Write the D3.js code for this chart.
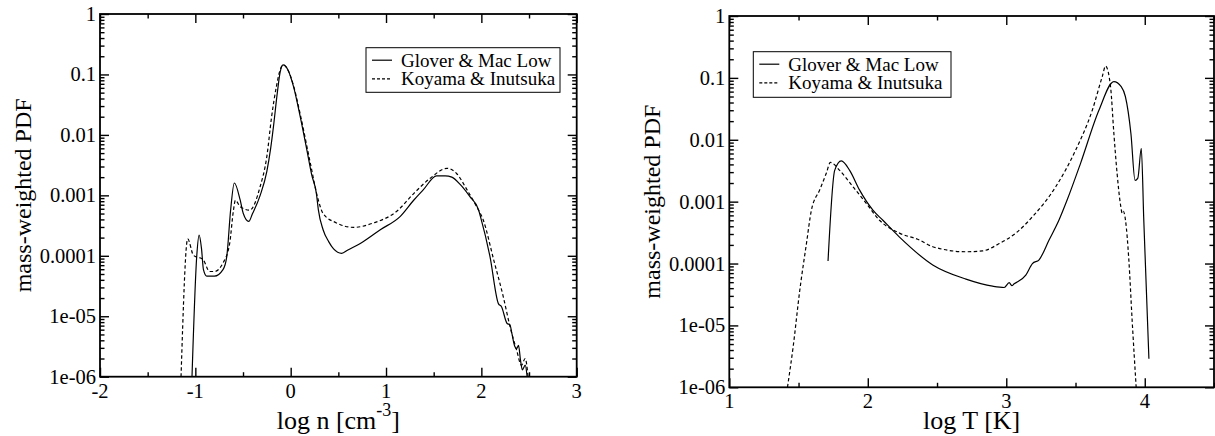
<!DOCTYPE html>
<html>
<head>
<meta charset="utf-8">
<script src="https://cdn.jsdelivr.net/npm/d3@7"></script>
<style>
  html, body { margin: 0; padding: 0; background: #fff; }
  svg { display: block; }
  text { font-family: "Liberation Serif", "Times New Roman", "DejaVu Serif", serif; fill: #000; }
</style>
</head>
<body>
<svg id="chart" width="1215" height="436"></svg>
<script>
// ---------------- DATA ----------------
const seriesNames = ["Glover & Mac Low", "Koyama & Inutsuka"];

// Left panel: log n [cm^-3] vs mass-weighted PDF
const densGM_x = [-1.035, -0.985, -0.96, -0.935, -0.915, -0.88, -0.80, -0.71, -0.67, -0.63, -0.591, -0.53, -0.497, -0.44, -0.40, -0.32, -0.25, -0.21, -0.18, -0.14, -0.11, -0.08, -0.03, 0.03, 0.10, 0.17, 0.22, 0.27, 0.29, 0.34, 0.40, 0.45, 0.535, 0.60, 0.73, 0.94, 1.15, 1.29, 1.39, 1.53, 1.62, 1.69, 1.78, 1.88, 1.97, 1.99, 2.09, 2.18, 2.21, 2.27, 2.30, 2.32, 2.35, 2.37, 2.39, 2.41, 2.43, 2.46, 2.48];
const densGM_y = [1e-6, 1e-4, 2.2e-4, 1.3e-4, 5.9e-5, 4.6e-5, 4.6e-5, 5.9e-5, 9.8e-5, 5.7e-4, 1.6e-3, 8.4e-4, 5.0e-4, 3.7e-4, 5.0e-4, 1.0e-3, 2.5e-3, 6e-3, 1.4e-2, 5e-2, 0.11, 0.144, 0.12, 0.063, 0.02, 5.6e-3, 2.2e-3, 1.07e-3, 5.8e-4, 2.7e-4, 1.7e-4, 1.3e-4, 1.1e-4, 1.25e-4, 1.6e-4, 2.7e-4, 4.5e-4, 8.3e-4, 1.23e-3, 2.1e-3, 2.1e-3, 2.0e-3, 1.5e-3, 9.5e-4, 5.8e-4, 4.5e-4, 9.8e-5, 1.6e-5, 1.45e-5, 7.6e-6, 7.2e-6, 5.2e-6, 3.2e-6, 2.9e-6, 3.3e-6, 1.9e-6, 1.3e-6, 1.55e-6, 1e-6];

const densKI_x = [-1.15, -1.08, -1.02, -0.92, -0.85, -0.80, -0.71, -0.64, -0.60, -0.58, -0.53, -0.43, -0.32, -0.25, -0.20, -0.15, -0.11, -0.08, -0.03, 0.03, 0.10, 0.20, 0.29, 0.34, 0.48, 0.66, 0.87, 1.11, 1.29, 1.46, 1.64, 1.74, 1.85, 1.95, 2.02, 2.13, 2.23, 2.30, 2.37, 2.42, 2.46, 2.49];
const densKI_y = [1e-6, 1.9e-4, 1.02e-4, 8.7e-5, 5.5e-5, 5.5e-5, 7.6e-5, 1.6e-4, 5.7e-4, 8.3e-4, 6.5e-4, 5.7e-4, 1.4e-3, 4.4e-3, 2e-2, 6.3e-2, 0.12, 0.144, 0.12, 0.065, 0.022, 3.8e-3, 8.3e-4, 5e-4, 3.5e-4, 2.95e-4, 3.5e-4, 5.4e-4, 1.07e-3, 1.9e-3, 2.8e-3, 2.3e-3, 1.23e-3, 6.5e-4, 3.9e-4, 8.5e-5, 2.1e-5, 6.8e-6, 2.75e-6, 1.55e-6, 2e-6, 1e-6];

// Right panel: log T [K] vs mass-weighted PDF
const tempGM_x = [1.713, 1.761, 1.809, 1.869, 1.94, 2.037, 2.109, 2.227, 2.469, 2.709, 2.901, 2.985, 3.021, 3.04, 3.057, 3.141, 3.189, 3.237, 3.309, 3.38, 3.44, 3.537, 3.669, 3.777, 3.83, 3.86, 3.90, 3.93, 3.95, 3.975, 3.993, 4.03];
const tempGM_y = [1.1e-4, 3.2e-3, 4.55e-3, 3.2e-3, 1.55e-3, 7.3e-4, 5.0e-4, 2.7e-4, 9.5e-5, 5.6e-5, 4.3e-5, 4.1e-5, 4.9e-5, 4.4e-5, 4.7e-5, 6.5e-5, 1.0e-4, 1.15e-4, 2.4e-4, 5.0e-4, 1.07e-3, 4.2e-3, 0.030, 0.087, 0.072, 0.05, 0.0126, 2.2e-3, 2.4e-3, 7.3e-3, 5e-4, 2.9e-6];

const tempKI_x = [1.42, 1.461, 1.509, 1.557, 1.593, 1.653, 1.701, 1.73, 1.797, 1.893, 1.989, 2.085, 2.229, 2.373, 2.469, 2.709, 2.829, 2.949, 3.069, 3.189, 3.357, 3.501, 3.621, 3.693, 3.717, 3.753, 3.777, 3.80, 3.825, 3.837, 3.845, 3.861, 3.885, 3.909, 3.938];
const tempKI_y = [1e-6, 4.5e-6, 3.7e-5, 2.1e-4, 7.3e-4, 1.55e-3, 2.9e-3, 4.3e-3, 3.2e-3, 1.74e-3, 9.4e-4, 5.0e-4, 3.1e-4, 2.4e-4, 1.87e-4, 1.55e-4, 1.6e-4, 2.1e-4, 3.1e-4, 5.7e-4, 1.74e-3, 6.8e-3, 0.030, 0.105, 0.155, 0.072, 0.0126, 2.9e-3, 8.9e-4, 6.5e-4, 7.0e-4, 5.0e-4, 1.15e-4, 1.2e-5, 1e-6];

const yTickValues = [1, 0.1, 0.01, 0.001, 0.0001, 1e-5, 1e-6];
const yTickLabels = ["1", "0.1", "0.01", "0.001", "0.0001", "1e-05", "1e-06"];
const densTicks = [-2, -1, 0, 1, 2, 3];
const tempTicks = [1, 2, 3, 4];

// ---------------- DRAW ----------------
const svg = d3.select("#chart");

function zip(xs, ys) { return xs.map((x, i) => ({ x: x, y: ys[i] })); }

function panel(cfg) {
  const x = d3.scaleLinear().domain(cfg.xDomain).range([cfg.left, cfg.right]);
  const y = d3.scaleLog().domain([1e-6, 1]).range([cfg.bottom, cfg.top]);
  const g = svg.append("g");

  const clipId = "clip" + cfg.id;
  svg.append("defs").append("clipPath").attr("id", clipId)
    .append("rect").attr("x", cfg.left).attr("y", cfg.top)
    .attr("width", cfg.right - cfg.left).attr("height", cfg.bottom - cfg.top);

  // curves
  const line = d3.line().x(d => x(d.x)).y(d => y(d.y)).curve(d3.curveMonotoneX);
  const cg = g.append("g").attr("clip-path", `url(#${clipId})`);
  cfg.series.forEach((s, i) => {
    cg.append("path").datum(zip(s.x, s.y))
      .attr("d", line).attr("fill", "none").attr("stroke", "#000")
      .attr("stroke-width", 1.2)
      .attr("stroke-dasharray", i === 1 ? "3.5,2.5" : null);
  });

  // axes via d3 axis generators, ticks inward
  const majX = cfg.xTicks;
  const minX = d3.range(cfg.xDomain[0] * 2, cfg.xDomain[1] * 2 + 0.001).map(v => v / 2).filter(v => !majX.includes(v));
  const minY = [];
  for (let e = -6; e < 0; e++) for (let k = 2; k <= 9; k++) minY.push(k * Math.pow(10, e));

  const majL = 9, minL = 4.5;
  function axisG(gen, tr) {
    const a = g.append("g").attr("transform", tr).call(gen);
    a.select(".domain").remove();
    a.selectAll(".tick line").attr("stroke", "#000").attr("stroke-width", 1.4);
    a.selectAll("text").remove();
    return a;
  }
  axisG(d3.axisTop(x).tickValues(majX).tickSize(majL), `translate(0,${cfg.bottom})`);
  axisG(d3.axisTop(x).tickValues(minX).tickSize(minL), `translate(0,${cfg.bottom})`);
  axisG(d3.axisBottom(x).tickValues(majX).tickSize(majL), `translate(0,${cfg.top})`);
  axisG(d3.axisBottom(x).tickValues(minX).tickSize(minL), `translate(0,${cfg.top})`);
  axisG(d3.axisRight(y).tickValues(yTickValues).tickSize(majL), `translate(${cfg.left},0)`);
  axisG(d3.axisRight(y).tickValues(minY).tickSize(minL), `translate(${cfg.left},0)`);
  axisG(d3.axisLeft(y).tickValues(yTickValues).tickSize(majL), `translate(${cfg.right},0)`);
  axisG(d3.axisLeft(y).tickValues(minY).tickSize(minL), `translate(${cfg.right},0)`);

  // frame
  g.append("rect").attr("x", cfg.left).attr("y", cfg.top)
    .attr("width", cfg.right - cfg.left).attr("height", cfg.bottom - cfg.top)
    .attr("fill", "none").attr("stroke", "#000").attr("stroke-width", 1.8);

  // tick labels
  g.selectAll(".xl").data(majX).enter().append("text")
    .attr("x", d => x(d)).attr("y", cfg.bottom + 21)
    .attr("text-anchor", "middle").style("font-size", "20.5px").text(d => d);
  g.selectAll(".yl").data(yTickValues).enter().append("text")
    .attr("x", cfg.left - 4).attr("y", d => y(d) + 7)
    .attr("text-anchor", "end").style("font-size", "20.5px").text((d, i) => yTickLabels[i]);

  // axis titles
  const xt = g.append("text").attr("x", (cfg.left + cfg.right) / 2).attr("y", 429)
    .attr("text-anchor", "middle").style("font-size", "26px");
  cfg.xTitle(xt);
  g.append("text").attr("transform", `translate(${cfg.left - 69},${(cfg.top + cfg.bottom) / 2}) rotate(-90)`)
    .attr("text-anchor", "middle").style("font-size", "24px").text("mass-weighted PDF");

  // legend
  const L = cfg.legend;
  g.append("rect").attr("x", L.x).attr("y", L.y).attr("width", L.w).attr("height", L.h)
    .attr("fill", "#fff").attr("stroke", "#000").attr("stroke-width", 1);
  seriesNames.forEach((n, i) => {
    const ly = L.y + 12.5 + i * 18.7;
    g.append("line").attr("x1", L.x + 6).attr("x2", L.x + 26).attr("y1", ly).attr("y2", ly)
      .attr("stroke", "#000").attr("stroke-width", 1.2)
      .attr("stroke-dasharray", i === 1 ? "3,2" : null);
    g.append("text").attr("x", L.x + 35).attr("y", ly + 6.5).style("font-size", "19px").text(n);
  });
}

panel({
  id: "L", left: 100, right: 576.7, top: 14, bottom: 376.7, xDomain: [-2, 3], xTicks: densTicks,
  series: [{ x: densGM_x, y: densGM_y }, { x: densKI_x, y: densKI_y }],
  legend: { x: 366, y: 47.7, w: 194, h: 44.6 },
  xTitle: t => {
    t.append("tspan").text("log n [cm");
    t.append("tspan").attr("dy", -13).style("font-size", "18px").text("-3");
    t.append("tspan").attr("dy", 13).text("]");
  }
});

panel({
  id: "R", left: 729.3, right: 1214, top: 16, bottom: 387.3, xDomain: [1, 4.5], xTicks: tempTicks,
  series: [{ x: tempGM_x, y: tempGM_y }, { x: tempKI_x, y: tempKI_y }],
  legend: { x: 753.3, y: 51.7, w: 197.7, h: 45.6 },
  xTitle: t => t.text("log T [K]")
});
</script>
</body>
</html>
